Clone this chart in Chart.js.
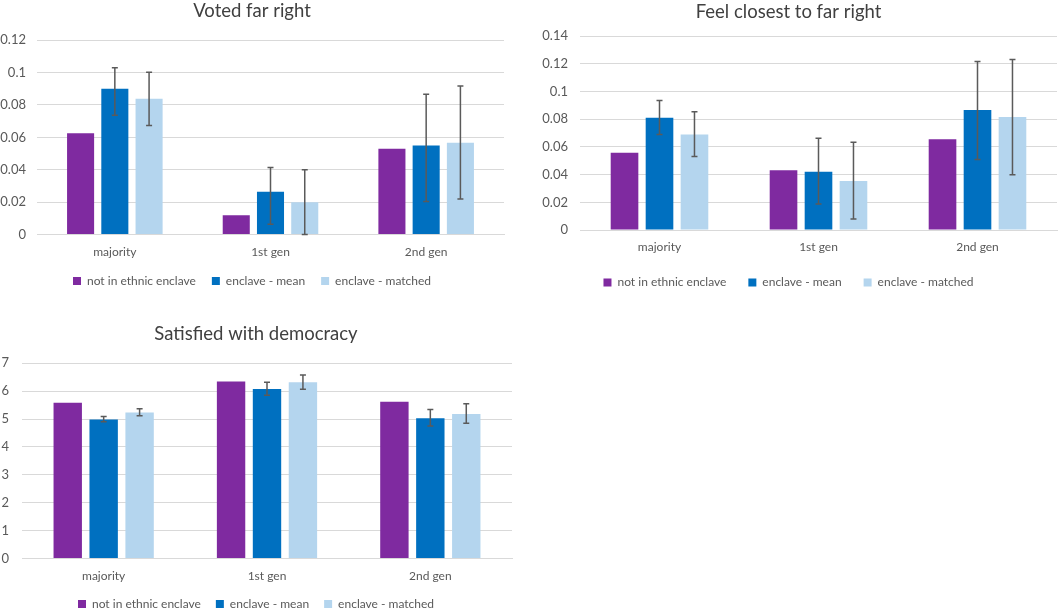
<!DOCTYPE html>
<html>
<head>
<meta charset="utf-8">
<script src="https://cdn.jsdelivr.net/npm/chart.js@4.4.1/dist/chart.umd.min.js"></script>
<style>
  html, body { margin: 0; padding: 0; background: #ffffff; }
  body { width: 1059px; height: 612px; position: relative; overflow: hidden; }
  .box { position: absolute; }
</style>
</head>
<body>
<div class="box" id="b1" style="left:0px; top:0px; width:520px; height:300px;"><canvas id="c1"></canvas></div>
<div class="box" id="b2" style="left:520px; top:0px; width:539px; height:300px;"><canvas id="c2"></canvas></div>
<div class="box" id="b3" style="left:0px; top:310px; width:520px; height:310px;"><canvas id="c3"></canvas></div>
<script>
// ---- data ----
const categories = ['majority', '1st gen', '2nd gen'];
const seriesNames = ['not in ethnic enclave', 'enclave - mean', 'enclave - matched'];

// Voted far right
const votedNotEnclave = [0.0625, 0.012, 0.053];
const votedMean = [0.090, 0.0265, 0.055];
const votedMatched = [0.0838, 0.020, 0.0567];
const votedMeanLow = [0.0736, 0.0064, 0.0204];
const votedMeanHigh = [0.103, 0.0414, 0.0866];
const votedMatchedLow = [0.0674, 0.0, 0.022];
const votedMatchedHigh = [0.1002, 0.040, 0.0917];

// Feel closest to far right
const feelNotEnclave = [0.0558, 0.0431, 0.0656];
const feelMean = [0.0811, 0.0421, 0.0866];
const feelMatched = [0.0689, 0.0354, 0.0816];
const feelMeanLow = [0.0689, 0.0187, 0.051];
const feelMeanHigh = [0.0936, 0.0663, 0.1218];
const feelMatchedLow = [0.0531, 0.0079, 0.040];
const feelMatchedHigh = [0.0854, 0.0634, 0.1232];

// Satisfied with democracy
const satNotEnclave = [5.58, 6.34, 5.62];
const satMean = [4.98, 6.08, 5.03];
const satMatched = [5.235, 6.32, 5.18];
const satMeanLow = [4.90, 5.85, 4.75];
const satMeanHigh = [5.09, 6.32, 5.34];
const satMatchedLow = [5.12, 6.07, 4.85];
const satMatchedHigh = [5.37, 6.58, 5.55];

// ---- styling ----
const COLORS = ['#7F2AA0', '#0070C0', '#B4D5EE'];
const FONT = 'Lato, "Open Sans", sans-serif';
const TEXT = '#595959';

const errorBarPlugin = {
  id: 'errorBars',
  afterDatasetsDraw(chart) {
    const ctx = chart.ctx;
    const y = chart.scales.y;
    chart.data.datasets.forEach((ds, i) => {
      if (!ds.errLow) return;
      const meta = chart.getDatasetMeta(i);
      meta.data.forEach((bar, j) => {
        const x = bar.x;
        const yl = y.getPixelForValue(ds.errLow[j]);
        const yh = y.getPixelForValue(ds.errHigh[j]);
        ctx.save();
        ctx.strokeStyle = '#5a5a5a';
        ctx.lineWidth = 1.5;
        ctx.beginPath();
        ctx.moveTo(x, yl); ctx.lineTo(x, yh);
        ctx.moveTo(x - 3, yl); ctx.lineTo(x + 3, yl);
        ctx.moveTo(x - 3, yh); ctx.lineTo(x + 3, yh);
        ctx.stroke();
        ctx.restore();
      });
    });
  }
};

function makeChart(id, o) {
  const datasets = o.values.map((v, i) => ({
    label: seriesNames[i],
    data: v,
    backgroundColor: COLORS[i],
    borderWidth: 0,
    categoryPercentage: 0.66,
    barPercentage: 0.79,
    errLow: o.low[i],
    errHigh: o.high[i]
  }));
  return new Chart(document.getElementById(id), {
    type: 'bar',
    data: { labels: categories, datasets },
    plugins: [errorBarPlugin],
    options: {
      responsive: true,
      maintainAspectRatio: false,
      animation: false,
      devicePixelRatio: 1,
      layout: { padding: o.pad },
      plugins: {
        title: {
          display: true,
          text: o.title,
          color: '#404040',
          font: { family: FONT, size: 18.5, weight: 'normal' },
          padding: o.titlePad
        },
        legend: {
          position: 'bottom',
          labels: {
            boxWidth: 8, boxHeight: 8,
            color: TEXT,
            padding: o.legPad,
            font: { family: FONT, size: 12 }
          }
        },
        tooltip: { enabled: false }
      },
      scales: {
        x: {
          grid: { display: false, drawTicks: false },
          border: { display: true, color: '#D9D9D9', width: 1 },
          ticks: { color: TEXT, padding: o.xPad, font: { family: FONT, size: 12 } },
          afterFit(scale) { scale.height = o.xPad + 14.4; }
        },
        y: {
          min: 0, max: o.max,
          ticks: {
            stepSize: o.step, color: TEXT, padding: o.yPad,
            font: { family: FONT, size: 13 },
            callback: (v) => String(Number(Number(v).toFixed(6)))
          },
          grid: { color: '#D9D9D9', lineWidth: 1, drawTicks: false },
          border: { display: false },
          afterFit(scale) { scale.width = o.yWidth; }
        }
      }
    }
  });
}

makeChart('c1', {
  title: 'Voted far right',
  values: [votedNotEnclave, votedMean, votedMatched],
  low: [null, votedMeanLow, votedMatchedLow],
  high: [null, votedMeanHigh, votedMatchedHigh],
  max: 0.12, step: 0.02,
  yWidth: 37, yPad: 11, xPad: 10, legPad: 16,
  pad: { top: 0, right: 16, bottom: 3, left: 0 },
  titlePad: { top: 0, bottom: 18 }
});

makeChart('c2', {
  title: 'Feel closest to far right',
  values: [feelNotEnclave, feelMean, feelMatched],
  low: [null, feelMeanLow, feelMatchedLow],
  high: [null, feelMeanHigh, feelMatchedHigh],
  max: 0.14, step: 0.02,
  yWidth: 60, yPad: 12, xPad: 10, legPad: 22,
  pad: { top: 1, right: 2, bottom: 1.6, left: 0 },
  titlePad: { top: 0, bottom: 13 }
});

makeChart('c3', {
  title: 'Satisfied with democracy',
  values: [satNotEnclave, satMean, satMatched],
  low: [null, satMeanLow, satMatchedLow],
  high: [null, satMeanHigh, satMatchedHigh],
  max: 7, step: 1,
  yWidth: 22, yPad: 13, xPad: 10, legPad: 15,
  pad: { top: 13, right: 8, bottom: 0, left: 0 },
  titlePad: { top: 0, bottom: 18 }
});
</script>
</body>
</html>
